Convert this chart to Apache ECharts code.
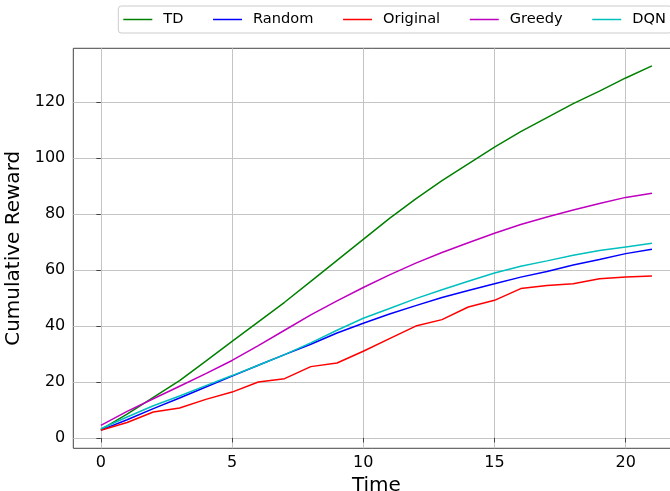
<!DOCTYPE html>
<html>
<head>
<meta charset="utf-8">
<script src="https://cdn.jsdelivr.net/npm/echarts@6/dist/echarts.min.js"></script>
<style>html,body{margin:0;padding:0;background:#fff;}#c{width:670px;height:491px;}</style>
</head>
<body>
<div id="c"></div>
<script>
const time = [0,1,2,3,4,5,6,7,8,9,10,11,12,13,14,15,16,17,18,19,20,21];
const seriesNames = ['TD','Random','Original','Greedy','DQN'];
const tdValues = [3,8.5,14.5,20.5,27.5,34.5,41.5,48.5,56,63.5,71,78.5,85.5,92,98,104,109.5,114.5,119.5,124,128.7,133];
const randomValues = [2.8,6.5,10.5,14.3,18.2,22.1,26,29.8,33.5,37.5,41,44.3,47.3,50.2,52.7,55.1,57.5,59.5,61.8,63.8,65.9,67.5];
const originalValues = [2.75,5.5,9.3,10.7,13.8,16.4,20,21.2,25.5,26.8,31,35.5,40,42.3,46.8,49.2,53.4,54.5,55.1,56.9,57.5,57.9];
const greedyValues = [4.5,9.5,14,18.5,23,27.7,33,38.5,44,49,53.8,58.3,62.5,66.3,69.8,73.2,76.3,79,81.5,83.8,86,87.5];
const dqnValues = [3.3,7.5,11.5,15,18.7,22.3,26,29.8,34,38.5,42.8,46.3,49.8,53,56,59,61.4,63.3,65.3,67,68.3,69.6];
const xTicks = [0,5,10,15,20];
const yTicks = [0,20,40,60,80,100,120];

const colors = ['#008000','#0000ff','#ff0000','#bf00bf','#00bfbf'];
const allValues = [tdValues, randomValues, originalValues, greedyValues, dqnValues];
const font = 'DejaVu Sans';

const chart = echarts.init(document.getElementById('c'), null, {renderer:'canvas'});
chart.setOption({
  animation: false,
  backgroundColor: '#fff',
  grid: {left: 73.3, top: 48.3, width: 606.2, height: 400, show: true, borderColor: '#444', borderWidth: 1, containLabel: false, outerBoundsMode: 'none'},
  legend: {
    data: seriesNames,
    left: 118.3, top: 6, width: 600,
    orient: 'horizontal',
    icon: 'path://M0,0 H29 V1.5 H0 Z',
    itemWidth: 29, itemHeight: 14, itemGap: 29.6,
    padding: [6, 6, 6, 5],
    borderColor: '#cccccc', borderWidth: 1, borderRadius: 3,
    backgroundColor: '#fff',
    textStyle: {fontFamily: font, fontSize: 14.6, color: '#000', padding: [0,0,0,6]}
  },
  xAxis: {
    type: 'value', min: -1.05, max: 22.05,
    name: 'Time', nameLocation: 'middle', nameGap: 23,
    nameTextStyle: {fontFamily: font, fontSize: 20, color: '#000'},
    axisLine: {show: false},
    axisTick: {show: true, inside: false, length: 4.5, lineStyle: {color: '#444'}, customValues: xTicks},
    axisLabel: {fontFamily: font, fontSize: 16, color: '#000', margin: 7, customValues: xTicks},
    splitLine: {show: true, lineStyle: {color: '#c4c4c4', width: 1}}
  },
  yAxis: {
    type: 'value', min: -3.7, max: 139.3,
    name: 'Cumulative Reward', nameLocation: 'middle', nameGap: 43,
    nameTextStyle: {fontFamily: font, fontSize: 20, color: '#000'},
    axisLine: {show: false},
    axisTick: {show: true, inside: false, length: 4.5, lineStyle: {color: '#444'}, customValues: yTicks},
    axisLabel: {fontFamily: font, fontSize: 16, color: '#000', margin: 8, customValues: yTicks},
    splitLine: {show: true, lineStyle: {color: '#c4c4c4', width: 1}}
  },
  series: seriesNames.map((n, i) => ({
    name: n, type: 'line', showSymbol: false, symbol: 'none',
    data: time.map((t, j) => [t, allValues[i][j]]),
    lineStyle: {color: colors[i], width: 1.5},
    itemStyle: {color: colors[i]}
  }))
});
</script>
</body>
</html>
